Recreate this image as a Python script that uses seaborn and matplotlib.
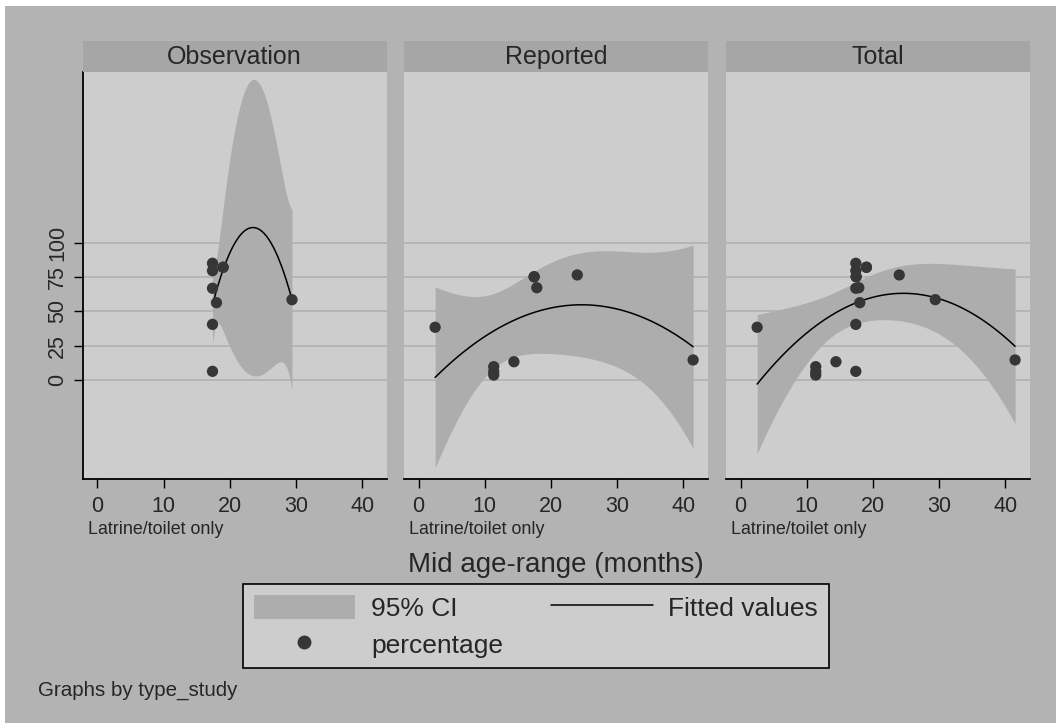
import numpy as np
import pandas as pd
import matplotlib
matplotlib.use("Agg")
import matplotlib.pyplot as plt
import seaborn as sns
from matplotlib.patches import Patch, Rectangle
from matplotlib.lines import Line2D

# ---------------- data ----------------
panels = ["Observation", "Reported", "Total"]
# (some markers coincide exactly and are hidden under one another)
obs_age = [17.4, 17.4, 19.0, 19.0, 17.4, 18.0, 17.4, 17.4, 29.4]
obs_pct = [85.0, 79.6, 82.1, 82.1, 66.8, 56.3, 40.5, 6.3, 58.5]
rep_age = [2.5, 11.35, 11.35, 11.35, 14.4, 17.45, 17.45, 17.85, 23.96, 41.45]
rep_pct = [38.4, 9.7, 6.1, 3.6, 13.3, 75.2, 75.2, 67.2, 76.5, 14.6]
yticks = [0, 25, 50, 75, 100]
xticks = [0, 10, 20, 30, 40]
subtitle = "Latrine/toilet only"
xlabel = "Mid age-range (months)"
note = "Graphs by type_study"
legend_labels = ["95% CI", "Fitted values", "percentage"]
t_crit = {4: 2.7764, 5: 2.5706, 6: 2.4469, 7: 2.3646, 8: 2.3060,
          13: 2.1604, 14: 2.1448, 15: 2.1314, 16: 2.1199}

# ---------------- styling ----------------
sns.set_theme(style="white")
plt.rcParams["font.family"] = ["Liberation Sans", "DejaVu Sans"]

OUTER = "#b3b3b3"
STRIP = "#a6a6a6"
PLOTBG = "#cdcdcd"
CIFILL = "#adadad"
GRID = "#b5b5b5"
DOT = "#363636"

W, H = 1056, 723
fig = plt.figure(figsize=(W / 100, H / 100), dpi=100, facecolor="white")
fig.patches.append(Rectangle((5 / W, 0), 1 - 5 / W, 1 - 6 / H, transform=fig.transFigure,
                             facecolor=OUTER, edgecolor="none", zorder=-10))


def qfit(x, y):
    x = np.asarray(x, float)
    y = np.asarray(y, float)
    X = np.column_stack([np.ones_like(x), x, x ** 2])
    beta, *_ = np.linalg.lstsq(X, y, rcond=None)
    n = len(x)
    resid = y - X @ beta
    s2 = resid @ resid / (n - 3)
    cov = s2 * np.linalg.inv(X.T @ X)
    xg = np.linspace(x.min(), x.max(), 300)
    Xg = np.column_stack([np.ones_like(xg), xg, xg ** 2])
    fit = Xg @ beta
    se = np.sqrt(np.einsum("ij,jk,ik->i", Xg, cov, Xg))
    t = t_crit[n - 3]
    return pd.DataFrame({"age": xg, "fit": fit, "lo": fit - t * se, "hi": fit + t * se})


data = {
    "Observation": pd.DataFrame({"age": obs_age, "pct": obs_pct}),
    "Reported": pd.DataFrame({"age": rep_age, "pct": rep_pct}),
}
data["Total"] = pd.concat([data["Observation"], data["Reported"]], ignore_index=True)

lefts = [82.7, 404.0, 726.0]
pw = 304.0
top_px, bot_px = 72.0, 479.0
strip_top = 41.0

for i, (name, left) in enumerate(zip(panels, lefts)):
    ax = fig.add_axes([left / W, (H - bot_px) / H, pw / W, (bot_px - top_px) / H])
    ax.set_facecolor(PLOTBG)
    df = data[name]
    f = qfit(df["age"], df["pct"])
    for yv in yticks:
        ax.axhline(yv, color=GRID, lw=1.4, zorder=0)
    ax.fill_between(f["age"], f["lo"], f["hi"], color=CIFILL, lw=0, zorder=1)
    sns.lineplot(data=f, x="age", y="fit", ax=ax, color="black", lw=1.1, zorder=2)
    sns.scatterplot(data=df, x="age", y="pct", ax=ax, color=DOT, s=66, edgecolor="none",
                    zorder=3)
    ax.set_xlim(-2.2, 43.7)
    ax.set_ylim(-72.1, 224.3)
    ax.set_xlabel("")
    ax.set_ylabel("")
    ax.set_xticks(xticks)
    ax.set_xticklabels([str(v) for v in xticks], fontsize=15.5)
    ax.tick_params(axis="x", direction="out", length=6.5, width=1, color="black", pad=6,
                   bottom=True)
    for s in ["top", "right"]:
        ax.spines[s].set_visible(False)
    ax.spines["bottom"].set_color("black")
    ax.spines["bottom"].set_linewidth(1.3)
    if i == 0:
        ax.set_yticks(yticks)
        ax.set_yticklabels([str(v) for v in yticks], fontsize=15.5, rotation=90, va="center")
        ax.tick_params(axis="y", direction="out", length=6.5, width=1, color="black", pad=4,
                       left=True)
        ax.spines["left"].set_color("black")
        ax.spines["left"].set_linewidth(1.3)
    else:
        ax.set_yticks([])
        ax.spines["left"].set_visible(False)
    ax.annotate(subtitle, xy=(0, 0), xycoords="axes fraction", xytext=(5, -51),
                textcoords="offset pixels", ha="left", va="center", fontsize=12.9)
    # strip header
    sax = fig.add_axes([left / W, (H - top_px) / H, pw / W, (top_px - strip_top) / H])
    sax.set_facecolor(STRIP)
    sax.set_xticks([])
    sax.set_yticks([])
    for s in sax.spines.values():
        s.set_visible(False)
    sax.text(0.5, 0.47, name, ha="center", va="center", fontsize=18, transform=sax.transAxes)

fig.text((lefts[0] + lefts[2] + pw) / 2 / W, 1 - 565 / H, xlabel, ha="center", va="center",
         fontsize=20)
fig.text(38 / W, 1 - 690 / H, note, ha="left", va="center", fontsize=14.8)

handles = [Patch(facecolor=CIFILL, edgecolor="none"),
           Line2D([], [], marker="o", color=DOT, markersize=9, lw=0),
           Line2D([], [], color="black", lw=1.1)]
labels = [legend_labels[0], legend_labels[2], legend_labels[1]]
leg = fig.legend(handles, labels, ncol=2, loc="upper left",
                 bbox_to_anchor=(243 / W, 1 - 584 / H), fontsize=19,
                 frameon=True, fancybox=False, facecolor=PLOTBG, edgecolor="black",
                 handlelength=3.86, handleheight=1.02, handletextpad=0.6, columnspacing=1.8,
                 labelspacing=0.42, borderpad=0.4, borderaxespad=0)
leg.get_frame().set_linewidth(1.2)
leg.get_frame().set_alpha(1)

fig.savefig("out.png", dpi=100, facecolor=fig.get_facecolor())
